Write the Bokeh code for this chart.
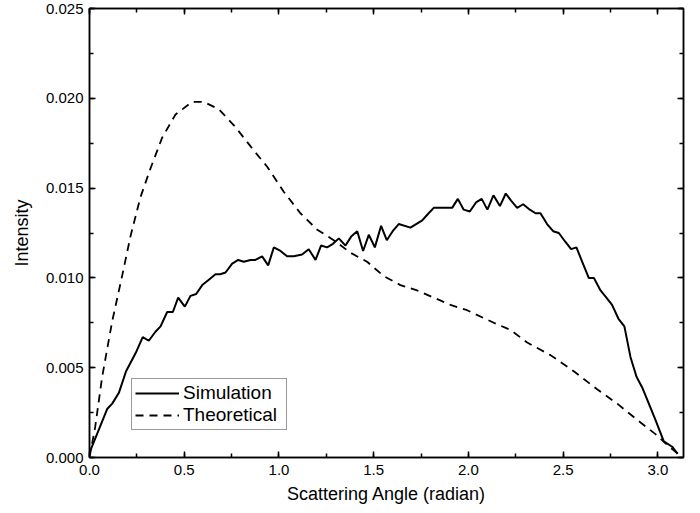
from bokeh.plotting import figure
from bokeh.models import (LinearAxis, SingleIntervalTicker, PrintfTickFormatter,
                          CustomJSTickFormatter, Legend, LegendItem, Range1d)
from bokeh.embed import file_html
from bokeh.resources import INLINE

sim_x = [0.005, 0.093, 0.12, 0.155, 0.193, 0.243, 0.281, 0.313, 0.348, 0.375,
         0.41, 0.44, 0.468, 0.503, 0.533, 0.563, 0.595, 0.63, 0.665, 0.69,
         0.718, 0.753, 0.785, 0.814, 0.85, 0.876, 0.911, 0.943, 0.973, 1.008,
         1.043, 1.078, 1.122, 1.157, 1.193, 1.222, 1.254, 1.285, 1.316, 1.351,
         1.381, 1.413, 1.444, 1.474, 1.506, 1.539, 1.569, 1.60, 1.632, 1.694,
         1.756, 1.79, 1.817, 1.852, 1.914, 1.944, 1.975, 2.007, 2.04, 2.07,
         2.10, 2.132, 2.166, 2.197, 2.225, 2.257, 2.289, 2.324, 2.354, 2.38,
         2.415, 2.447, 2.477, 2.512, 2.542, 2.57, 2.60, 2.635, 2.662, 2.697,
         2.728, 2.758, 2.793, 2.823, 2.855, 2.887, 2.917, 2.952, 2.987, 3.031,
         3.075, 3.104]
sim_y = [0.0004, 0.0027, 0.0030, 0.0036, 0.0048, 0.0058, 0.0067, 0.0065, 0.0070, 0.0073,
         0.0081, 0.0081, 0.0089, 0.0084, 0.0090, 0.0091, 0.0096, 0.0099, 0.0102, 0.0102,
         0.0103, 0.0108, 0.0110, 0.0109, 0.0110, 0.0110, 0.0112, 0.0107, 0.0117, 0.0115,
         0.0112, 0.0112, 0.0113, 0.0116, 0.0110, 0.0118, 0.0117, 0.0119, 0.0122, 0.0118,
         0.0123, 0.0126, 0.0115, 0.0124, 0.0117, 0.0129, 0.0121, 0.0126, 0.0130, 0.0128,
         0.0132, 0.0136, 0.0139, 0.0139, 0.0139, 0.0144, 0.0138, 0.0137, 0.0142, 0.0144,
         0.0138, 0.0146, 0.0140, 0.0147, 0.0143, 0.0139, 0.0141, 0.0138, 0.0136, 0.0136,
         0.0130, 0.0126, 0.0125, 0.0120, 0.0116, 0.0117, 0.0109, 0.0100, 0.0100, 0.0093,
         0.0089, 0.0085, 0.0077, 0.0073, 0.0056, 0.0045, 0.0039, 0.0030, 0.0021, 0.0009,
         0.0006, 0.0002]

theo_x = [0.0, 0.03, 0.067, 0.12, 0.172, 0.216, 0.269, 0.322, 0.383, 0.454,
          0.541, 0.603, 0.682, 0.77, 0.867, 0.937, 1.025, 1.113, 1.2, 1.289,
          1.377, 1.465, 1.553, 1.641, 1.729, 1.817, 1.905, 1.993, 2.134, 2.222,
          2.31, 2.433, 2.556, 2.679, 2.785, 2.89, 2.987, 3.06, 3.12]
theo_y = [0.0, 0.0017, 0.0045, 0.0076, 0.0101, 0.0123, 0.0145, 0.0161, 0.0178, 0.0191,
          0.0198, 0.0198, 0.0194, 0.0184, 0.0171, 0.0162, 0.0148, 0.0136, 0.0127, 0.0121,
          0.0114, 0.0109, 0.0101, 0.0096, 0.0093, 0.0089, 0.0085, 0.0082, 0.0075, 0.0071,
          0.0064, 0.0057, 0.0048, 0.0038, 0.0030, 0.0021, 0.0013, 0.0006, 0.0001]

x_title = "Scattering Angle (radian)"
y_title = "Intensity"
series_names = ["Simulation", "Theoretical"]

FONT = "Liberation Sans"

p = figure(output_backend="svg", toolbar_location=None,
           x_range=Range1d(0, 3.135), y_range=Range1d(0, 0.025),
           x_axis_location=None, y_axis_location=None,
           min_border_left=89, min_border_right=4, min_border_top=8, min_border_bottom=0)
p.frame_width = 594
p.frame_height = 449
p.grid.visible = False
p.outline_line_color = "black"
p.outline_line_width = 1.5
p.background_fill_color = "white"
p.border_fill_color = "white"


def make_axis(interval, fmt, labels=True):
    formatter = PrintfTickFormatter(format=fmt) if labels else CustomJSTickFormatter(code="return ''")
    ax = LinearAxis(ticker=SingleIntervalTicker(interval=interval, num_minor_ticks=2),
                    formatter=formatter)
    ax.axis_line_color = "black"
    ax.axis_line_width = 1.5
    ax.major_tick_in = 6
    ax.major_tick_out = 0
    ax.minor_tick_in = 4
    ax.minor_tick_out = 0
    ax.major_tick_line_width = 1.5
    ax.minor_tick_line_width = 1.5
    ax.major_tick_line_color = "black"
    ax.minor_tick_line_color = "black"
    ax.major_label_text_font = FONT
    ax.major_label_text_font_size = "15px"
    ax.major_label_text_color = "black"
    ax.axis_label_text_font = FONT
    ax.axis_label_text_font_size = "18px"
    ax.axis_label_text_font_style = "normal"
    ax.axis_label_text_color = "black"
    if not labels:
        ax.major_label_standoff = 0
    return ax


xb = make_axis(0.5, "%.1f")
xb.axis_label = x_title
xb.major_label_standoff = 7
xb.axis_label_standoff = 6
p.add_layout(xb, "below")

yl = make_axis(0.005, "%.3f")
yl.axis_label = y_title
yl.major_label_standoff = 6
yl.axis_label_standoff = 11
p.add_layout(yl, "left")

xt = make_axis(0.5, "%.1f", labels=False)
p.add_layout(xt, "above")
yr = make_axis(0.005, "%.3f", labels=False)
p.add_layout(yr, "right")

r_sim = p.line(sim_x, sim_y, line_color="black", line_width=2)
r_theo = p.line(theo_x, theo_y, line_color="black", line_width=1.8, line_dash="8 6")

legend = Legend(items=[LegendItem(label=series_names[0], renderers=[r_sim]),
                       LegendItem(label=series_names[1], renderers=[r_theo])],
                location=(42, 27))
legend.margin = 0
legend.padding = 3
legend.spacing = 0
legend.glyph_width = 44
legend.glyph_height = 18
legend.label_height = 18
legend.label_width = 100
legend.label_standoff = 4
legend.label_text_font = FONT
legend.label_text_font_size = "19px"
legend.label_text_color = "black"
legend.border_line_color = "#333333"
legend.border_line_width = 1
legend.background_fill_color = "white"
legend.background_fill_alpha = 1
p.add_layout(legend, "center")

open("out.html", "w").write(file_html(p, INLINE))
